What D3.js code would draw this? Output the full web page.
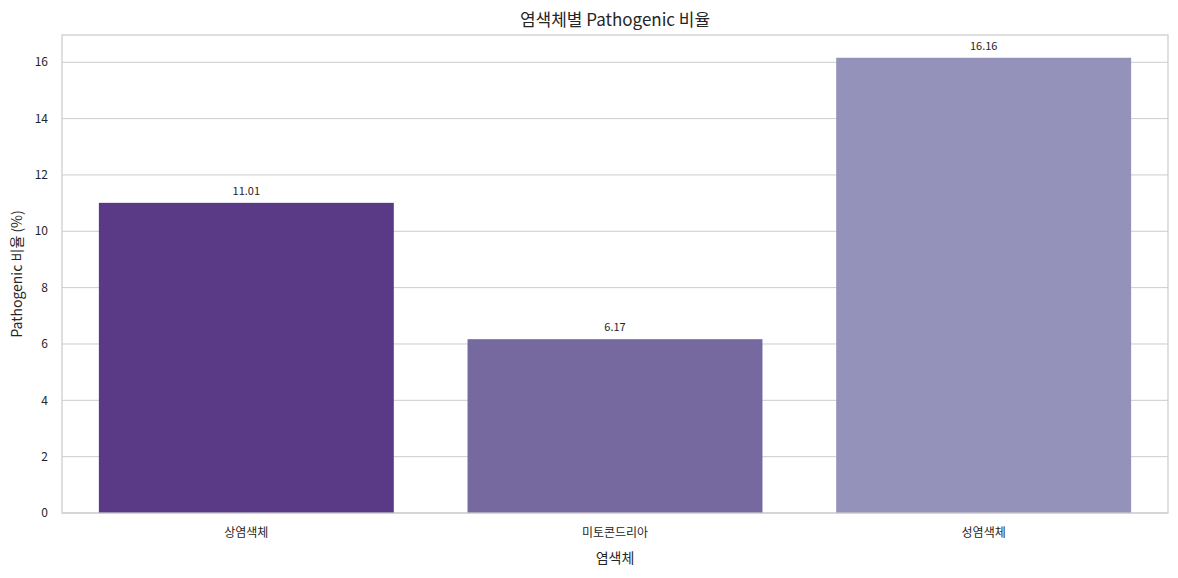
<!DOCTYPE html>
<meta charset="utf-8" />
<html>
<head>
<title>염색체별 Pathogenic 비율</title>
<script src="https://cdn.jsdelivr.net/npm/d3@7"></script>
<style>
body { margin: 0; background: #fff; }
text { font-family: "Noto Sans CJK KR", "Noto Sans", sans-serif; fill: #262626; }
</style>
</head>
<body>
<div id="viz"></div>
<script>

var categories = ["상염색체", "미토콘드리아", "성염색체"];
var values = [11.01, 6.17, 16.16];
var colors = ["#5a3a87", "#7669a0", "#9491ba"];
var yTicks = [0, 2, 4, 6, 8, 10, 12, 14, 16];

var width = 1178,
    height = 578;
var margin = {top: 35, right: 10, bottom: 65, left: 62};

var svg = d3.select("#viz").append("svg")
    .attr("width", width)
    .attr("height", height);

var x = d3.scaleBand()
    .domain(categories)
    .range([margin.left, width - margin.right])
    .paddingInner(0.2)
    .paddingOuter(0.1);

var y = d3.scaleLinear()
    .domain([0, d3.max(values) * 1.05])
    .range([height - margin.bottom, margin.top]);

// grid
svg.append("g").selectAll("line")
  .data(yTicks)
  .enter().append("line")
  .attr("x1", margin.left)
  .attr("x2", width - margin.right)
  .attr("y1", function(d) { return y(d); })
  .attr("y2", function(d) { return y(d); })
  .style("stroke", "#cccccc")
  .style("stroke-width", 1);

// bars
svg.append("g").selectAll("rect")
  .data(values)
  .enter().append("rect")
  .attr("x", function(d, i) { return x(categories[i]); })
  .attr("width", x.bandwidth())
  .attr("y", function(d) { return y(d); })
  .attr("height", function(d) { return y(0) - y(d); })
  .style("fill", function(d, i) { return colors[i]; });

// value labels
svg.append("g").selectAll("text")
  .data(values)
  .enter().append("text")
  .attr("x", function(d, i) { return x(categories[i]) + x.bandwidth() / 2; })
  .attr("y", function(d) { return y(d) - 8; })
  .attr("text-anchor", "middle")
  .style("font-size", "11px")
  .text(function(d) { return d.toFixed(2); });

// frame
svg.append("rect")
  .attr("x", margin.left)
  .attr("y", margin.top)
  .attr("width", width - margin.right - margin.left)
  .attr("height", height - margin.bottom - margin.top)
  .style("fill", "none")
  .style("stroke", "#cccccc")
  .style("stroke-width", 1.25);

// y tick labels
svg.append("g").selectAll("text")
  .data(yTicks)
  .enter().append("text")
  .attr("x", margin.left - 14)
  .attr("y", function(d) { return y(d); })
  .attr("dy", "0.35em")
  .attr("text-anchor", "end")
  .style("font-size", "12px")
  .text(function(d) { return d; });

// x tick labels
svg.append("g").selectAll("text")
  .data(categories)
  .enter().append("text")
  .attr("x", function(d) { return x(d) + x.bandwidth() / 2; })
  .attr("y", height - margin.bottom + 24)
  .attr("text-anchor", "middle")
  .style("font-size", "12px")
  .text(function(d) { return d; });

// axis titles
svg.append("text")
  .attr("x", (margin.left + width - margin.right) / 2)
  .attr("y", height - 15)
  .attr("text-anchor", "middle")
  .style("font-size", "14px")
  .text("염색체");

svg.append("text")
  .attr("transform", "translate(22," + ((margin.top + height - margin.bottom) / 2) + ") rotate(-90)")
  .attr("text-anchor", "middle")
  .style("font-size", "14px")
  .text("Pathogenic 비율 (%)");

svg.append("text")
  .attr("x", (margin.left + width - margin.right) / 2)
  .attr("y", 26)
  .attr("text-anchor", "middle")
  .style("font-size", "17px")
  .text("염색체별 Pathogenic 비율");

</script>
</body>
</html>
